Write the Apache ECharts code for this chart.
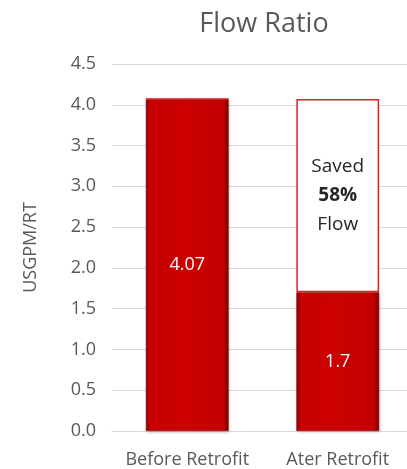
<!DOCTYPE html>
<html>
<head>
<meta charset="utf-8">
<script src="https://cdn.jsdelivr.net/npm/echarts@6.0.0/dist/echarts.min.js"></script>
<style>
  html, body { margin: 0; padding: 0; background: #fff; }
  #main { width: 407px; height: 469px; }
</style>
</head>
<body>
<div id="main"></div>
<script>
const categories = ['Before Retrofit', 'Ater Retrofit']
const flowValues = [4.07, 1.7]
const savedValues = [0, 2.37]
const savedPercent = '58%'
const yTicks = { min: 0, max: 4.5, interval: 0.5 }

const textFont = '"Open Sans", "Liberation Sans", sans-serif'
const grey = '#595959'

// red bar with darker edges, a bit like the excel bevel
const barFill = new echarts.graphic.LinearGradient(0, 0, 1, 0, [
  { offset: 0, color: '#9a0000' },
  { offset: 0.06, color: '#c80000' },
  { offset: 0.5, color: '#cc0000' },
  { offset: 0.93, color: '#c40000' },
  { offset: 1, color: '#7a0000' }
])

const chart = echarts.init(document.getElementById('main'))

chart.setOption({
  animation: false,
  title: {
    text: 'Flow Ratio',
    left: 259,
    textAlign: 'center',
    top: 6,
    textStyle: { fontFamily: textFont, fontSize: 27, fontWeight: 'normal', color: grey }
  },
  grid: { left: 112, right: -6, top: 64, bottom: 38, outerBoundsMode: 'none' },
  xAxis: {
    type: 'category',
    data: categories,
    axisLine: { lineStyle: { color: '#d9d9d9' } },
    axisTick: { show: false },
    axisLabel: {
      fontFamily: textFont, fontSize: 18, color: grey, margin: 20,
      interval: 0, hideOverlap: false
    }
  },
  yAxis: {
    type: 'value',
    min: yTicks.min,
    max: yTicks.max,
    interval: yTicks.interval,
    name: 'USGPM/RT',
    nameLocation: 'middle',
    nameGap: 72,
    nameTextStyle: { fontFamily: textFont, fontSize: 18, color: grey },
    axisLine: { show: false },
    axisTick: { show: false },
    splitLine: { lineStyle: { color: '#d9d9d9' } },
    axisLabel: {
      fontFamily: textFont, fontSize: 18, color: grey, margin: 16,
      formatter: v => v.toFixed(1)
    }
  },
  series: [
    {
      type: 'bar',
      stack: 'flow',
      data: flowValues,
      barWidth: '55%',
      itemStyle: {
        color: barFill,
        borderColor: '#8a0000',
        borderWidth: 0.5,
        shadowColor: 'rgba(0,0,0,0.25)',
        shadowBlur: 3,
        shadowOffsetX: 1,
        shadowOffsetY: 1
      },
      label: {
        show: true,
        position: 'inside',
        color: '#fff',
        fontFamily: textFont,
        fontSize: 18
      }
    },
    {
      type: 'bar',
      stack: 'flow',
      data: savedValues,
      barWidth: '55%',
      itemStyle: { color: '#fff', borderColor: '#e02020', borderWidth: 1.5 },
      label: {
        show: true,
        position: 'inside',
        formatter: p => p.value > 0 ? '{n|Saved}\n{b|' + savedPercent + '}\n{n|Flow}' : '',
        rich: {
          n: { fontFamily: textFont, fontSize: 19, color: '#262626', lineHeight: 29 },
          b: { fontFamily: textFont, fontSize: 19, fontWeight: 'bold', color: '#262626', lineHeight: 29 }
        }
      }
    }
  ]
})
</script>
</body>
</html>
